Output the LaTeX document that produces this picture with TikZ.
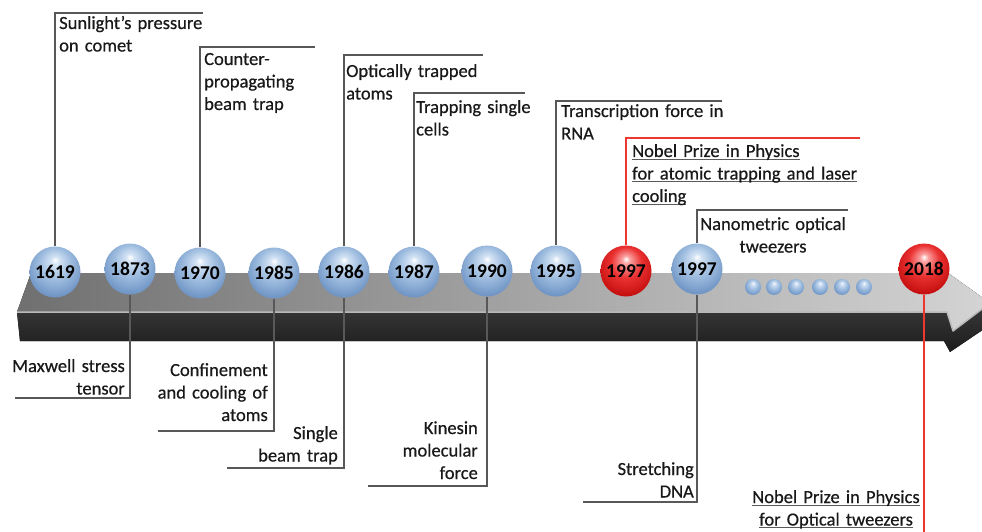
\documentclass[tikz,border=0pt]{standalone}
\usepackage{fontspec}
\setmainfont{Carlito}
\newfontfamily\lblfam[FakeBold=0.5]{Carlito}
\definecolor{sbA}{RGB}{212,227,244}
\definecolor{sbB}{RGB}{160,190,224}
\definecolor{sbC}{RGB}{115,152,199}
\definecolor{sbD}{RGB}{95,132,185}
\definecolor{srA}{RGB}{250,160,160}
\definecolor{srB}{RGB}{235,50,50}
\definecolor{srC}{RGB}{200,18,18}
\definecolor{srD}{RGB}{170,10,10}
\definecolor{leadgray}{RGB}{88,88,88}
\definecolor{leadred}{RGB}{238,55,48}
\definecolor{txt}{RGB}{25,25,25}
\definecolor{ulgray}{RGB}{90,90,90}
\definecolor{topL}{RGB}{112,112,112}
\definecolor{topR}{RGB}{212,212,212}
\definecolor{frT}{RGB}{58,58,58}
\definecolor{frB}{RGB}{28,28,28}
\definecolor{edgeL}{RGB}{185,185,185}
\pgfdeclareradialshading{bluesph}{\pgfpoint{0bp}{12bp}}{color(0bp)=(white); color(4bp)=(sbA); color(15bp)=(sbB); color(28bp)=(sbC); color(37bp)=(sbD); color(50bp)=(sbD)}
\pgfdeclareradialshading{redsph}{\pgfpoint{0bp}{12bp}}{color(0bp)=(white); color(4bp)=(srA); color(15bp)=(srB); color(28bp)=(srC); color(37bp)=(srD); color(50bp)=(srD)}
\newcommand\lblfont{\lblfam\fontsize{18.5}{22.5}\selectfont}
\newcommand\yrfont{\bfseries\fontsize{19.5}{21}\selectfont}
\newcommand\uln[1]{\leavevmode\setbox0\hbox{#1}\rlap{\color{ulgray}\rule[-2.5pt]{\wd0}{0.9pt}}\box0}
\tikzset{
  sph/.style={circle, minimum size=51pt, inner sep=0pt, font=\yrfont, text=black},
  bsph/.style={sph, shading=bluesph},
  rsph/.style={sph, shading=redsph},
  minidot/.style={circle, minimum size=16pt, inner sep=0pt, shading=bluesph},
  lead/.style={draw=leadgray, line width=1.3pt},
  rlead/.style={draw=leadred, line width=1.1pt},
  lbl/.style={font=\lblfont, text=txt, inner sep=0pt, text width=240pt},
  lbll/.style={lbl, align=left, anchor=base west},
  lblr/.style={lbl, align=right, anchor=base east},
  lblc/.style={lbl, align=center, anchor=base},
}
\begin{document}
\begin{tikzpicture}[x=1pt,y=-1pt]
\useasboundingbox (0,0) rectangle (982,532);
\fill[white] (0,0) rectangle (982,532);
% bar
\fill[left color=topL, right color=topR] (31,273) -- (948,273) -- (990,303) -- (953,331) -- (947,312) -- (17,312) -- cycle;
\fill[top color=frT, bottom color=frB] (17,312) -- (947,312) -- (953,331) -- (990,303) -- (990,325) -- (950,352) -- (944,341) -- (20,341) -- cycle;
\draw[edgeL, line width=1.5pt, line join=round] (17,312) -- (947,312) -- (953,331) -- (990,303);
% coordinates for leader ends
\coordinate (e1) at (203,13);
\coordinate (e2) at (315,47);
\coordinate (e3) at (483,55);
\coordinate (e4) at (525,93);
\coordinate (e5) at (722,101);
\coordinate (e6) at (860,138);
\coordinate (e7) at (848,210);
\coordinate (e8) at (15,398);
\coordinate (e9) at (158,431);
\coordinate (e10) at (227,468);
\coordinate (e11) at (368,486);
\coordinate (e12) at (583,502);
\coordinate (e13) at (924,532);
% spheres
\path
  (55,272) node[bsph] (s1) {}
  (130,269) node[bsph] (s2) {}
  (200,273) node[bsph] (s3) {}
  (274,273) node[bsph] (s4) {}
  (344,272) node[bsph] (s5) {}
  (414,272) node[bsph] (s6) {}
  (487,271) node[bsph] (s7) {}
  (556,271) node[bsph] (s8) {}
  (626,271) node[rsph] (s9) {}
  (697,269) node[bsph] (s10) {}
  (924,269) node[rsph] (s11) {};
% leader lines
\draw[lead] (s1.north) |- (e1);
\draw[lead] (s3.north) |- (e2);
\draw[lead] (s5.north) |- (e3);
\draw[lead] (s6.north) |- (e4);
\draw[lead] (s8.north) |- (e5);
\draw[rlead] (s9.north) |- (e6);
\draw[lead] (s10.north) |- (e7);
\draw[lead] (s2.south) |- (e8);
\draw[lead] (s4.south) |- (e9);
\draw[lead] (s5.south) |- (e10);
\draw[lead] (s7.south) |- (e11);
\draw[lead] (s10.south) |- (e12);
\draw[rlead] (s11.south) -- (e13);
% year labels on spheres
\node[font=\yrfont] (y1) at (s1) {1619};
\node[font=\yrfont] (y2) at (s2) {1873};
\node[font=\yrfont] (y3) at (s3) {1970};
\node[font=\yrfont] (y4) at (s4) {1985};
\node[font=\yrfont] (y5) at (s5) {1986};
\node[font=\yrfont] (y6) at (s6) {1987};
\node[font=\yrfont] (y7) at (s7) {1990};
\node[font=\yrfont] (y8) at (s8) {1995};
\node[font=\yrfont] (y9) at (s9) {1997};
\node[font=\yrfont] (y10) at (s10) {1997};
\node[font=\yrfont] (y11) at (s11) {2018};
% small dots
\node[minidot] (b1) at (753,287) {};
\node[minidot] (b2) at (774,287) {};
\node[minidot] (b3) at (796,287) {};
\node[minidot] (b4) at (820,287) {};
\node[minidot] (b5) at (842,287) {};
\node[minidot] (b6) at (864,287) {};
% labels
\node[lbll] (t1) at (59,29) {Sunlight’s pressure\\on comet};
\node[lbll] (t2) at (204,65) {Counter-\\propagating\\beam trap};
\node[lbll] (t3) at (346,77) {Optically trapped\\atoms};
\node[lbll] (t4) at (416,113) {Trapping single\\cells};
\node[lbll] (t5) at (561,117) {Transcription force in\\RNA};
\node[lbll] (t6) at (632,157) {\uln{Nobel Prize in Physics}\\\uln{for atomic trapping and laser}\\\uln{cooling}};
\node[lblc] (t7) at (773,230) {Nanometric optical\\tweezers};
\node[lblr] (t8) at (125,372) {Maxwell stress\\tensor};
\node[lblr] (t9) at (268,376) {Confinement\\and cooling of\\atoms};
\node[lblr] (t10) at (338,439) {Single\\beam trap};
\node[lblr] (t11) at (478,434) {Kinesin\\molecular\\force};
\node[lblr] (t12) at (694,475) {Stretching\\DNA};
\node[lblc] (t13) at (836,503) {\uln{Nobel Prize in Physics}\\\uln{for Optical tweezers}};
\end{tikzpicture}
\end{document}
